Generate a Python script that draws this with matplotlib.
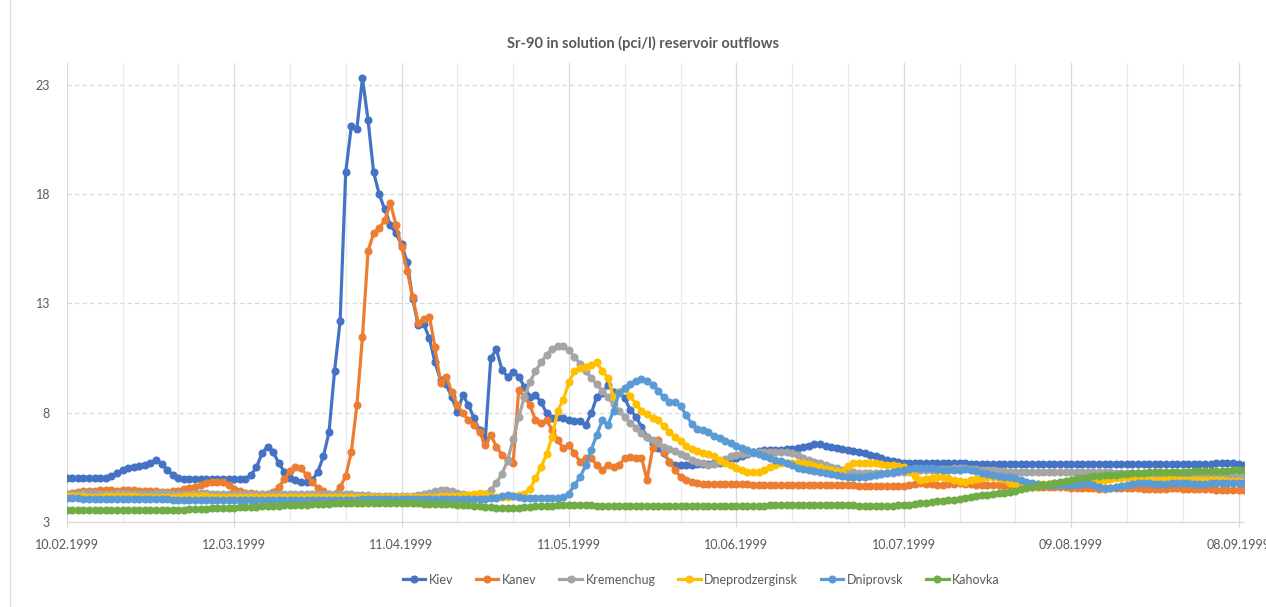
import numpy as np
import matplotlib
matplotlib.use("Agg")
import matplotlib.pyplot as plt
import matplotlib.dates as mdates

plt.rcParams['font.family'] = ['Lato', 'DejaVu Sans']

# daily samples, 10.02.1999 .. 09.09.1999
start = np.datetime64('1999-02-10')
n_days = 212

kiev = [
    5.0, 5.0, 5.0, 5.0, 5.0, 5.0, 5.0, 5.02, 5.1, 5.22,
    5.38, 5.48, 5.53, 5.58, 5.62, 5.7, 5.85, 5.65, 5.4, 5.15,
    5.0, 4.98, 4.97, 4.97, 4.97, 4.96, 4.96, 4.97, 4.97, 4.97,
    4.97, 4.97, 4.97, 5.15, 5.5, 6.15, 6.45, 6.2, 5.7, 5.3,
    5.0, 4.92, 4.85, 4.85, 4.9, 5.3, 6.0, 7.1, 9.9, 12.2,
    19.0, 21.1, 21.0, 23.3, 21.4, 19.0, 18.0, 17.3, 16.6, 16.2,
    15.7, 14.9, 13.2, 12.0, 12.05, 11.4, 10.3, 9.5, 9.3, 8.7,
    8.05, 8.8, 8.35, 7.74, 7.2, 6.75, 10.5, 10.9, 9.96, 9.65,
    9.88, 9.65, 9.2, 8.73, 8.8, 8.5, 7.97, 7.74, 7.82, 7.74,
    7.67, 7.6, 7.6, 7.44, 7.97, 8.73, 8.9, 9.27, 8.96, 8.96,
    8.66, 8.13, 7.82, 7.36, 6.9, 6.6, 6.37, 6.14, 5.76, 5.61,
    5.6, 5.6, 5.62, 5.65, 5.65, 5.65, 5.68, 5.7, 5.8, 5.9,
    5.95, 6.0, 6.1, 6.2, 6.25, 6.3, 6.3, 6.3, 6.3, 6.32,
    6.35, 6.4, 6.45, 6.5, 6.55, 6.55, 6.5, 6.45, 6.4, 6.35,
    6.3, 6.25, 6.2, 6.15, 6.05, 6.0, 5.95, 5.85, 5.8, 5.75,
    5.72, 5.7, 5.7, 5.7, 5.7, 5.7, 5.7, 5.68, 5.68, 5.68,
    5.68, 5.68, 5.67, 5.67, 5.67, 5.67, 5.67, 5.66, 5.66, 5.66,
    5.66, 5.66, 5.65, 5.65, 5.65, 5.65, 5.65, 5.65, 5.65, 5.65,
    5.65, 5.65, 5.64, 5.64, 5.64, 5.64, 5.64, 5.64, 5.64, 5.64,
    5.64, 5.64, 5.64, 5.64, 5.64, 5.65, 5.65, 5.65, 5.65, 5.65,
    5.66, 5.66, 5.66, 5.67, 5.67, 5.67, 5.68, 5.68, 5.68, 5.68,
    5.65, 5.62,
]

kanev = [
    4.3, 4.35, 4.38, 4.4, 4.4, 4.42, 4.45, 4.45, 4.45, 4.42,
    4.45, 4.45, 4.45, 4.42, 4.42, 4.4, 4.4, 4.38, 4.38, 4.4,
    4.42, 4.5, 4.55, 4.62, 4.7, 4.77, 4.82, 4.85, 4.82, 4.7,
    4.5, 4.4, 4.35, 4.32, 4.3, 4.28, 4.3, 4.38, 4.6, 4.95,
    5.35, 5.53, 5.46, 5.15, 4.85, 4.55, 4.4, 4.3, 4.3, 4.6,
    5.1, 6.2, 8.35, 11.45, 15.4, 16.2, 16.45, 16.8, 17.6, 16.6,
    15.6, 14.5, 13.3, 12.1, 12.3, 12.4, 11.0, 9.35, 9.65, 8.96,
    8.35, 7.97, 7.67, 7.44, 7.13, 6.52, 6.98, 6.45, 6.07, 5.84,
    5.7, 9.04, 8.73, 8.35, 7.67, 7.52, 7.67, 7.2, 6.75, 6.37,
    6.52, 6.14, 5.76, 5.92, 5.92, 5.61, 5.38, 5.61, 5.53, 5.61,
    5.92, 5.99, 5.92, 5.95, 4.92, 6.37, 6.75, 6.22, 5.76, 5.38,
    5.07, 4.9, 4.85, 4.78, 4.75, 4.72, 4.72, 4.72, 4.72, 4.72,
    4.72, 4.72, 4.72, 4.7, 4.7, 4.7, 4.7, 4.7, 4.7, 4.7,
    4.7, 4.7, 4.7, 4.7, 4.7, 4.7, 4.68, 4.68, 4.68, 4.68,
    4.68, 4.68, 4.66, 4.66, 4.66, 4.66, 4.66, 4.65, 4.65, 4.65,
    4.66, 4.7, 4.75, 4.78, 4.75, 4.72, 4.7, 4.7, 4.72, 4.75,
    4.77, 4.75, 4.72, 4.7, 4.7, 4.68, 4.68, 4.68, 4.66, 4.65,
    4.65, 4.64, 4.63, 4.62, 4.62, 4.62, 4.62, 4.62, 4.6, 4.58,
    4.56, 4.55, 4.54, 4.54, 4.54, 4.52, 4.52, 4.54, 4.55, 4.55,
    4.55, 4.54, 4.54, 4.53, 4.52, 4.52, 4.52, 4.53, 4.54, 4.54,
    4.53, 4.52, 4.5, 4.5, 4.5, 4.49, 4.48, 4.48, 4.47, 4.46,
    4.46, 4.46,
]

kremenchug = [
    4.28, 4.3, 4.3, 4.32, 4.32, 4.32, 4.3, 4.3, 4.3, 4.32,
    4.32, 4.32, 4.3, 4.3, 4.3, 4.3, 4.32, 4.32, 4.32, 4.3,
    4.3, 4.3, 4.3, 4.3, 4.32, 4.32, 4.3, 4.3, 4.3, 4.3,
    4.3, 4.3, 4.3, 4.3, 4.28, 4.28, 4.28, 4.3, 4.3, 4.3,
    4.28, 4.26, 4.26, 4.26, 4.26, 4.26, 4.28, 4.28, 4.3, 4.3,
    4.28, 4.26, 4.24, 4.22, 4.22, 4.2, 4.2, 4.2, 4.2, 4.2,
    4.2, 4.2, 4.2, 4.22, 4.26, 4.35, 4.42, 4.46, 4.45, 4.4,
    4.32, 4.28, 4.25, 4.22, 4.22, 4.3, 4.45, 4.8, 5.2, 5.8,
    6.8, 7.8, 8.7, 9.4, 9.9, 10.3, 10.65, 10.9, 11.05, 11.05,
    10.85, 10.55, 10.25, 9.9, 9.6, 9.3, 9.0, 8.7, 8.4, 8.1,
    7.8, 7.55, 7.3, 7.05, 6.9, 6.75, 6.6, 6.45, 6.35, 6.25,
    6.1, 6.0, 5.85, 5.75, 5.68, 5.62, 5.65, 5.75, 5.9, 6.0,
    6.08, 6.12, 6.15, 6.18, 6.2, 6.22, 6.22, 6.22, 6.22, 6.2,
    6.15, 6.05, 5.95, 5.85, 5.75, 5.68, 5.6, 5.52, 5.45, 5.4,
    5.35, 5.3, 5.26, 5.24, 5.23, 5.23, 5.23, 5.24, 5.26, 5.28,
    5.3, 5.32, 5.34, 5.36, 5.38, 5.38, 5.4, 5.42, 5.44, 5.45,
    5.46, 5.45, 5.44, 5.42, 5.4, 5.38, 5.36, 5.34, 5.32, 5.3,
    5.3, 5.3, 5.3, 5.3, 5.3, 5.3, 5.3, 5.3, 5.3, 5.3,
    5.3, 5.3, 5.3, 5.3, 5.3, 5.28, 5.28, 5.27, 5.26, 5.25,
    5.25, 5.24, 5.23, 5.22, 5.22, 5.21, 5.2, 5.2, 5.19, 5.18,
    5.18, 5.17, 5.16, 5.15, 5.14, 5.13, 5.12, 5.11, 5.1, 5.09,
    5.08, 5.07,
]

dneprodzerginsk = [
    4.18, 4.18, 4.17, 4.17, 4.16, 4.16, 4.16, 4.17, 4.18, 4.18,
    4.18, 4.18, 4.17, 4.16, 4.16, 4.16, 4.15, 4.15, 4.15, 4.16,
    4.16, 4.17, 4.18, 4.18, 4.18, 4.17, 4.16, 4.15, 4.15, 4.15,
    4.15, 4.15, 4.16, 4.16, 4.16, 4.15, 4.15, 4.15, 4.15, 4.15,
    4.14, 4.14, 4.14, 4.14, 4.15, 4.15, 4.15, 4.15, 4.16, 4.16,
    4.16, 4.16, 4.15, 4.15, 4.15, 4.15, 4.15, 4.15, 4.15, 4.15,
    4.15, 4.15, 4.15, 4.15, 4.16, 4.16, 4.16, 4.17, 4.18, 4.18,
    4.2, 4.22, 4.24, 4.26, 4.31, 4.26, 4.2, 4.16, 4.16, 4.16,
    4.2, 4.24, 4.3, 4.5, 5.0, 5.5, 6.1, 6.9, 8.1, 8.6,
    9.4, 9.9, 10.05, 10.1, 10.2, 10.3, 9.9, 9.6, 8.7, 8.95,
    9.1, 8.75, 8.4, 8.1, 7.95, 7.75, 7.65, 7.4, 7.1, 6.9,
    6.7, 6.5, 6.35, 6.25, 6.15, 6.1, 6.0, 5.85, 5.72, 5.6,
    5.48, 5.38, 5.3, 5.28, 5.3, 5.4, 5.5, 5.6, 5.68, 5.72,
    5.72, 5.7, 5.69, 5.65, 5.58, 5.5, 5.42, 5.38, 5.32, 5.3,
    5.55, 5.68, 5.72, 5.72, 5.7, 5.69, 5.66, 5.62, 5.6, 5.56,
    5.53, 5.3, 5.1, 4.92, 4.95, 5.0, 5.05, 5.07, 5.0, 4.92,
    4.88, 4.85, 4.9, 4.96, 5.0, 5.05, 5.07, 5.02, 4.96, 4.8,
    4.75, 4.72, 4.7, 4.7, 4.72, 4.74, 4.76, 4.78, 4.8, 4.8,
    4.8, 4.8, 4.8, 4.82, 4.82, 4.85, 4.9, 4.95, 5.0, 5.02,
    5.05, 5.05, 5.0, 4.94, 4.92, 4.92, 4.94, 4.96, 4.96, 4.94,
    4.93, 4.92, 4.92, 4.92, 4.92, 4.91, 4.9, 4.9, 4.88, 4.87,
    4.86, 4.85,
]

dniprovsk = [
    4.08, 4.08, 4.08, 4.07, 4.07, 4.07, 4.06, 4.06, 4.06, 4.06,
    4.06, 4.05, 4.05, 4.05, 4.05, 4.04, 4.04, 4.04, 4.04, 4.03,
    4.03, 4.03, 4.02, 4.02, 4.02, 4.02, 4.02, 4.02, 4.02, 4.02,
    4.02, 4.02, 4.02, 4.02, 4.02, 4.02, 4.02, 4.02, 4.02, 4.02,
    4.02, 4.02, 4.02, 4.02, 4.03, 4.03, 4.03, 4.03, 4.03, 4.03,
    4.03, 4.03, 4.03, 4.04, 4.04, 4.04, 4.04, 4.04, 4.04, 4.04,
    4.04, 4.04, 4.04, 4.04, 4.05, 4.05, 4.05, 4.05, 4.05, 4.05,
    4.05, 4.05, 4.05, 4.05, 4.05, 4.06, 4.08, 4.12, 4.2, 4.24,
    4.2, 4.16, 4.12, 4.1, 4.08, 4.08, 4.08, 4.08, 4.08, 4.16,
    4.3, 4.7, 5.05, 5.6, 6.3, 7.0, 7.65, 7.45, 8.1, 8.9,
    9.15, 9.3, 9.47, 9.53, 9.45, 9.27, 9.0, 8.7, 8.5, 8.5,
    8.3, 7.9, 7.5, 7.25, 7.2, 7.1, 6.95, 6.85, 6.7, 6.6,
    6.5, 6.4, 6.3, 6.2, 6.12, 6.0, 5.92, 5.85, 5.78, 5.7,
    5.6, 5.48, 5.42, 5.38, 5.35, 5.3, 5.25, 5.2, 5.15, 5.1,
    5.07, 5.07, 5.07, 5.08, 5.12, 5.15, 5.2, 5.23, 5.28, 5.35,
    5.4, 5.44, 5.46, 5.46, 5.46, 5.45, 5.42, 5.4, 5.38, 5.38,
    5.4, 5.42, 5.4, 5.32, 5.25, 5.18, 5.15, 5.12, 5.08, 5.05,
    5.0, 4.92, 4.85, 4.78, 4.72, 4.69, 4.69, 4.69, 4.69, 4.7,
    4.7, 4.71, 4.72, 4.77, 4.7, 4.62, 4.56, 4.56, 4.6, 4.65,
    4.7, 4.74, 4.77, 4.77, 4.77, 4.76, 4.76, 4.76, 4.77, 4.77,
    4.77, 4.77, 4.76, 4.76, 4.76, 4.77, 4.77, 4.77, 4.77, 4.77,
    4.77, 4.77,
]

kahovka = [
    3.55, 3.56, 3.55, 3.55, 3.54, 3.55, 3.55, 3.54, 3.54, 3.55,
    3.54, 3.54, 3.54, 3.53, 3.54, 3.54, 3.54, 3.54, 3.55, 3.55,
    3.56, 3.57, 3.58, 3.59, 3.6, 3.6, 3.62, 3.63, 3.64, 3.65,
    3.66, 3.67, 3.68, 3.7, 3.71, 3.72, 3.73, 3.74, 3.75, 3.76,
    3.77, 3.78, 3.79, 3.8, 3.81, 3.82, 3.83, 3.84, 3.85, 3.86,
    3.87, 3.87, 3.88, 3.88, 3.88, 3.88, 3.87, 3.87, 3.86, 3.86,
    3.86, 3.85, 3.85, 3.85, 3.84, 3.84, 3.84, 3.83, 3.83, 3.82,
    3.8, 3.78, 3.76, 3.74, 3.72, 3.7, 3.68, 3.66, 3.64, 3.63,
    3.63, 3.65, 3.68, 3.7, 3.72, 3.73, 3.74, 3.75, 3.76, 3.77,
    3.78, 3.78, 3.78, 3.77, 3.76, 3.75, 3.74, 3.73, 3.73, 3.73,
    3.73, 3.72, 3.72, 3.72, 3.72, 3.72, 3.72, 3.72, 3.72, 3.72,
    3.72, 3.72, 3.72, 3.72, 3.72, 3.73, 3.73, 3.73, 3.73, 3.73,
    3.73, 3.74, 3.74, 3.74, 3.75, 3.75, 3.76, 3.76, 3.77, 3.77,
    3.78, 3.78, 3.79, 3.79, 3.8, 3.8, 3.8, 3.79, 3.79, 3.78,
    3.77, 3.76, 3.75, 3.74, 3.74, 3.73, 3.73, 3.74, 3.75, 3.77,
    3.78, 3.8, 3.82, 3.85, 3.88, 3.91, 3.94, 3.97, 4.0, 4.03,
    4.05, 4.1, 4.14, 4.18, 4.22, 4.25, 4.28, 4.31, 4.35, 4.39,
    4.44, 4.49, 4.54, 4.59, 4.64, 4.69, 4.74, 4.79, 4.84, 4.89,
    4.94, 5.0, 5.03, 5.06, 5.09, 5.11, 5.13, 5.15, 5.17, 5.19,
    5.2, 5.22, 5.24, 5.25, 5.27, 5.28, 5.3, 5.3, 5.31, 5.31,
    5.31, 5.31, 5.32, 5.32, 5.32, 5.33, 5.33, 5.34, 5.35, 5.36,
    5.37, 5.38,
]

names = ["Kiev", "Kanev", "Kremenchug", "Dneprodzerginsk", "Dniprovsk", "Kahovka"]
colors = ["#4472C4", "#ED7D31", "#A5A5A5", "#FFC000", "#5B9BD5", "#70AD47"]
series = [kiev, kanev, kremenchug, dneprodzerginsk, dniprovsk, kahovka]

dates = (start + np.arange(n_days)).astype('datetime64[D]').astype(object)
major = (start + np.arange(0, n_days, 30)).astype('datetime64[D]').astype(object)
minor = (start + np.arange(0, n_days, 10)).astype('datetime64[D]').astype(object)

fig = plt.figure(figsize=(12.66, 6.07), dpi=100)
ax = fig.add_axes([0.0527, 0.14, 0.9300, 0.7562])

text_col = "#595959"
grid_col = "#D9D9D9"

for name, col, vals in zip(names, colors, series):
    ax.plot(dates, vals, color=col, lw=2.3, marker='o', ms=4.8,
            mec=col, mfc=col, label=name, zorder=3)

ax.set_xlim(dates[0], dates[-1])
ax.set_ylim(3, 24)
ax.set_yticks([3, 8, 13, 18, 23])

ax.set_xticks(major)
ax.set_xticks(minor, minor=True)
ax.xaxis.set_major_formatter(mdates.DateFormatter('%d.%m.%Y'))

ax.grid(axis='y', color=grid_col, lw=0.9, ls=(0, (3.5, 2.5)), zorder=0)
ax.grid(axis='x', which='minor', color="#EBEBEB", lw=0.9, zorder=0)
ax.grid(axis='x', which='major', color=grid_col, lw=0.9, zorder=0)

for s in ['top', 'right', 'left']:
    ax.spines[s].set_visible(False)
ax.spines['bottom'].set_color(grid_col)
ax.spines['bottom'].set_linewidth(0.9)

ax.tick_params(axis='x', which='major', length=4, color=grid_col,
               labelsize=9, labelcolor=text_col, pad=8)
ax.tick_params(axis='x', which='minor', length=0)
ax.tick_params(axis='y', length=0, labelsize=9, labelcolor=text_col, pad=12)

fig.text(0.508, 0.928, "Sr-90 in solution (pci/l) reservoir outflows",
         ha='center', va='center', fontsize=10.5, fontweight='bold', color=text_col)

fig.legend(loc='center', bbox_to_anchor=(0.554, 0.045), ncol=6, frameon=False,
           fontsize=9, labelcolor=text_col, handlelength=1.8, handletextpad=0.3,
           columnspacing=1.8)

# chart area border on the left
fig.add_artist(plt.Line2D([0.008, 0.008], [0.0, 1.0], color=grid_col, lw=1.0))

fig.savefig("out.png", dpi=100)
